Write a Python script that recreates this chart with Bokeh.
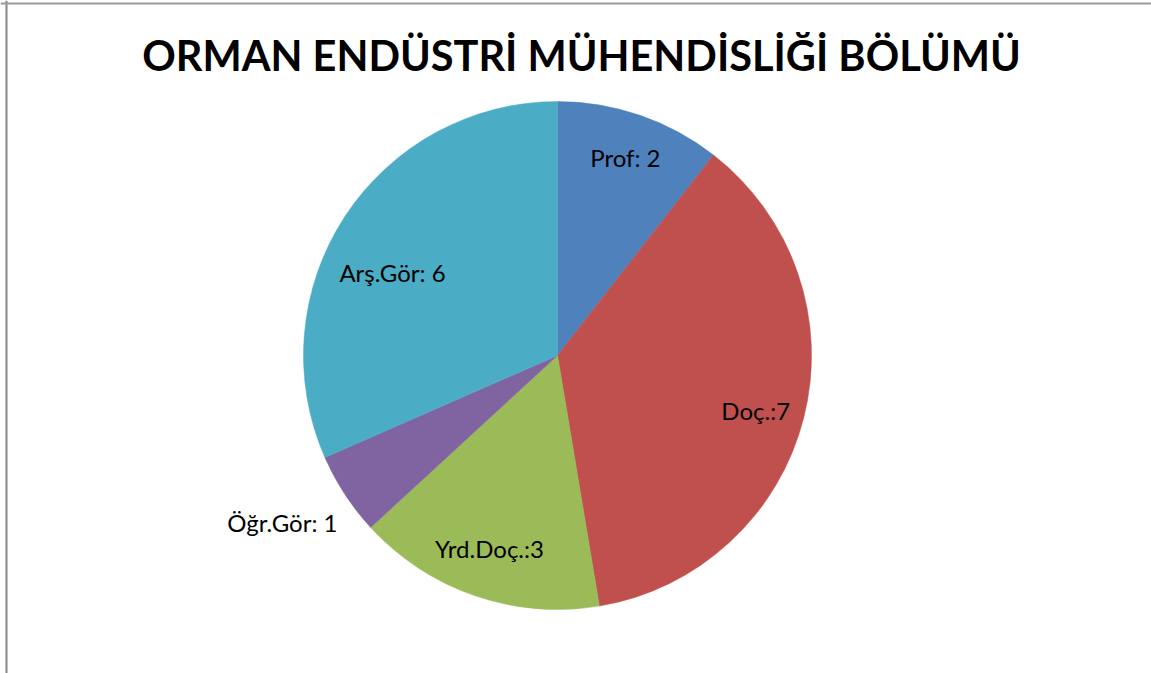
import math
from bokeh.plotting import figure
from bokeh.models import Range1d, Span, ColumnDataSource
from bokeh.core.properties import value
from bokeh.embed import file_html
from bokeh.resources import INLINE

title = "ORMAN ENDÜSTRİ MÜHENDİSLİĞİ BÖLÜMÜ"
categories = ["Prof", "Doç.", "Yrd.Doç.", "Öğr.Gör", "Arş.Gör"]
values = [2, 7, 3, 1, 6]
labels = ["Prof: 2", "Doç.:7", "Yrd.Doç.:3", "Öğr.Gör: 1", "Arş.Gör: 6"]
colors = ["#4F81BD", "#C0504D", "#9BBB59", "#8064A2", "#4BACC6"]

W, H = 1151, 673
cx, cy, R = 557, H - 355, 254
label_r = [0.823, 0.81, 0.805, 1.267, 0.727]
label_da = [0.0, 1.3, 0.5, 1.9, -6.5]  # degrees, clockwise

total = sum(values)
starts, ends, lx, ly = [], [], [], []
cum = 0
for i, v in enumerate(values):
    a0 = math.pi / 2 - 2 * math.pi * cum / total
    a1 = math.pi / 2 - 2 * math.pi * (cum + v) / total
    mid = (a0 + a1) / 2 - math.radians(label_da[i])
    starts.append(a0)
    ends.append(a1)
    lx.append(cx + label_r[i] * R * math.cos(mid))
    ly.append(cy + label_r[i] * R * math.sin(mid))
    cum += v

src = ColumnDataSource(dict(x=[cx] * len(values), y=[cy] * len(values),
                            start=starts, end=ends, color=colors,
                            lx=lx, ly=ly, label=labels))

p = figure(width=W, height=H, output_backend="svg", toolbar_location=None,
           x_range=Range1d(0, W), y_range=Range1d(0, H), min_border=0)
p.axis.visible = False
p.grid.visible = False
p.outline_line_color = None
p.background_fill_color = "white"
p.border_fill_color = "white"

p.wedge(x="x", y="y", radius=R, start_angle="start", end_angle="end",
        direction="clock", fill_color="color", line_color="color", line_width=0.5,
        source=src)

p.text(x="lx", y="ly", text="label", source=src, text_align="center",
       text_baseline="middle", text_font=value("Lato"), text_font_size="24px",
       text_color="black")

p.text(x=[581], y=[H - 54], text=[title], text_align="center",
       text_baseline="middle", text_font=value("Lato"), text_font_size="41.5px",
       text_font_style="bold", text_color="black")

p.add_layout(Span(location=6, dimension="height", line_color="#888888", line_width=2))
p.add_layout(Span(location=H - 3, dimension="width", line_color="#999999", line_width=2))

open("out.html", "w").write(file_html(p, INLINE))
